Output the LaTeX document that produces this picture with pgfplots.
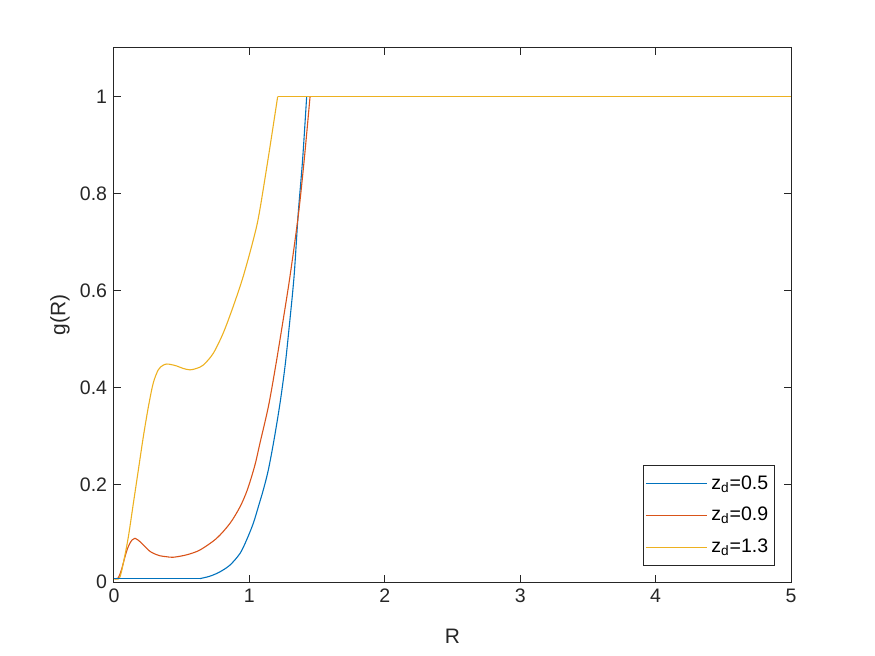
\documentclass[border=0pt]{standalone}
\usepackage{fontspec}
\setmainfont{Liberation Sans}
\usepackage{pgfplots}
\pgfplotsset{compat=1.18}

\definecolor{mblue}{rgb}{0,0.447,0.741}
\definecolor{mred}{rgb}{0.85,0.325,0.098}
\definecolor{myellow}{rgb}{0.929,0.694,0.125}
\definecolor{axgray}{rgb}{0.15,0.15,0.15}

\begin{document}
\fontsize{9.8}{11.5}\selectfont
\begin{tikzpicture}
\useasboundingbox (-57bp,-37bp) rectangle (380.5bp,291bp);
\begin{axis}[
    scale only axis,
    width=338.5bp,
    height=267bp,
    xmin=0, xmax=5,
    ymin=0, ymax=1.1,
    xtick={0,1,2,3,4,5},
    ytick={0,0.2,0.4,0.6,0.8,1},
    tick align=inside,
    major tick length=3.5bp,
    axis line style={axgray, line width=0.5bp},
    every tick/.style={axgray, line width=0.5bp},
    tick label style={text=axgray, font=\fontsize{9.8}{11.5}\selectfont},
    /pgf/number format/assume math mode=true,
    label style={text=axgray, font=\fontsize{10.5}{12}\selectfont},
    xlabel={R},
    ylabel={g(R)},
    xlabel style={at={(axis description cs:0.5,0)}, anchor=center, yshift=-27bp},
    ylabel style={at={([xshift=-27bp]axis description cs:0,0.5)}, anchor=center},
    legend style={draw=axgray, line width=0.5bp, fill=white,
        at={(0.976,0.03)}, anchor=south east,
        font=\fontsize{9.8}{11.5}\selectfont, text=black,
        row sep=3.6bp, inner xsep=1bp, inner ysep=3bp},
    legend cell align=left,
    legend image code/.code={\draw[#1] (0bp,0bp) -- (30.5bp,0bp);},
]
% curves
\addplot[mblue, line width=0.55bp, smooth, forget plot] coordinates {
    (0.635,0.007) (0.709,0.012) (0.783,0.021) (0.857,0.035)
    (0.931,0.059) (0.98,0.087) (1.029,0.121) (1.066,0.155) (1.103,0.19)
    (1.14,0.231) (1.182,0.293) (1.226,0.368) (1.263,0.444) (1.292,0.52)
    (1.33,0.63) (1.36,0.757) (1.393,0.87) (1.423,1)
};
\addplot[mred, line width=0.55bp, smooth, forget plot] coordinates {
    (0,0.007) (0.03,0.008) (0.055,0.025) (0.081,0.052) (0.1,0.069)
    (0.118,0.080) (0.135,0.087) (0.155,0.090) (0.175,0.087) (0.204,0.080)
    (0.235,0.071) (0.266,0.063) (0.3,0.058) (0.34,0.054) (0.39,0.052)
    (0.438,0.051) (0.537,0.056) (0.635,0.066) (0.758,0.09) (0.857,0.121)
    (0.931,0.155) (0.985,0.19) (1.04,0.24) (1.078,0.286) (1.14,0.361)
    (1.189,0.437) (1.238,0.52) (1.30,0.63) (1.362,0.757) (1.405,0.87)
    (1.448,1)
};
\addplot[myellow, line width=0.55bp, smooth, forget plot] coordinates {
    (0,0.007) (0.04,0.008) (0.069,0.039) (0.106,0.093) (0.143,0.162)
    (0.18,0.231) (0.217,0.30) (0.254,0.361) (0.29,0.41) (0.327,0.437)
    (0.36,0.446) (0.389,0.449) (0.42,0.448) (0.463,0.445) (0.51,0.44)
    (0.561,0.437) (0.61,0.44) (0.66,0.447) (0.733,0.471) (0.807,0.513)
    (0.881,0.568) (0.955,0.63) (1.029,0.705) (1.071,0.757) (1.14,0.875)
    (1.209,1)
};
% flat parts
\addplot[mblue, line width=0.65bp, forget plot] coordinates {(0,0.007) (0.635,0.007)};
\addplot[mblue, line width=0.55bp, forget plot] coordinates {(1.423,1) (5,1)};
\addplot[mred, line width=0.55bp, forget plot] coordinates {(1.448,1) (5,1)};
\addplot[myellow, line width=0.55bp, forget plot] coordinates {(1.209,1) (5,1)};
% legend
\addlegendimage{mblue, line width=0.55bp}
\addlegendentry{z\textsubscript{d}=0.5}
\addlegendimage{mred, line width=0.55bp}
\addlegendentry{z\textsubscript{d}=0.9}
\addlegendimage{myellow, line width=0.55bp}
\addlegendentry{z\textsubscript{d}=1.3}
\end{axis}
\end{tikzpicture}
\end{document}
